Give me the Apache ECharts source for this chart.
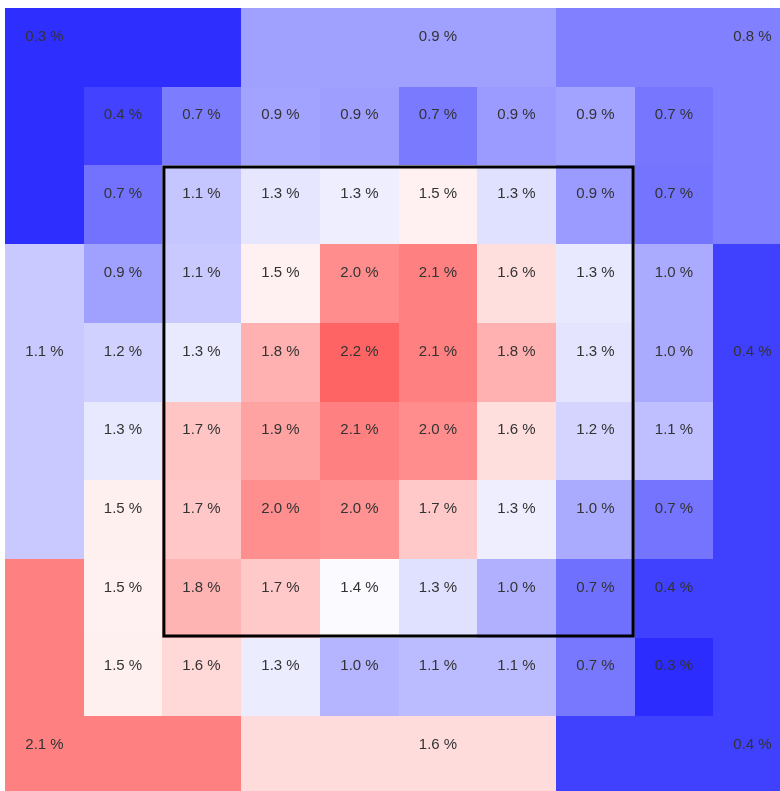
<!DOCTYPE html>
<html>
<head>
<meta charset="utf-8">
<script src="https://cdn.jsdelivr.net/npm/echarts@6/dist/echarts.min.js"></script>
<style>
  html, body { margin: 0; padding: 0; background: #ffffff; }
  #chart { width: 780px; height: 791px; }
</style>
</head>
<body>
<div id="chart"></div>
<script>
// Column / row categories of the 10 x 10 zone grid (0 = top / left)
var columns = ['0', '1', '2', '3', '4', '5', '6', '7', '8', '9'];
var rows = ['0', '1', '2', '3', '4', '5', '6', '7', '8', '9'];

// Inner 8 x 8 grid values (percent), rows 1..8 top to bottom, columns 1..8 left to right
var innerRow1 = [0.44, 0.74, 0.94, 0.92, 0.73, 0.90, 0.94, 0.71];
var innerRow2 = [0.69, 1.12, 1.29, 1.33, 1.49, 1.26, 0.90, 0.70];
var innerRow3 = [0.93, 1.14, 1.49, 2.01, 2.08, 1.59, 1.30, 0.98];
var innerRow4 = [1.18, 1.31, 1.83, 2.22, 2.08, 1.83, 1.28, 0.98];
var innerRow5 = [1.30, 1.72, 1.90, 2.08, 2.01, 1.59, 1.20, 1.09];
var innerRow6 = [1.50, 1.71, 2.00, 1.98, 1.70, 1.33, 0.98, 0.70];
var innerRow7 = [1.49, 1.81, 1.70, 1.40, 1.26, 1.01, 0.68, 0.43];
var innerRow8 = [1.50, 1.62, 1.32, 1.03, 1.07, 1.07, 0.72, 0.33];

// Outer (shadow) regions
var outerNames  = ['topLeft', 'top', 'topRight', 'left', 'right', 'bottomLeft', 'bottom', 'bottomRight'];
var outerValues = [0.34, 0.93, 0.77, 1.14, 0.43, 2.08, 1.60, 0.43];

// Strike zone bounds in grid cells: [firstCol, firstRow, lastCol, lastRow]
var strikeZone = [2, 2, 7, 7];

// ---- build cell data: [col, row, value, showLabel] ----
var innerRows = [innerRow1, innerRow2, innerRow3, innerRow4, innerRow5, innerRow6, innerRow7, innerRow8];

function outerRegion(c, r) {
  // returns [regionIndex, isLabelCell]
  if ((r === 0 && c <= 2) || (c === 0 && r <= 2)) return [0, c === 0 && r === 0];
  if (r === 0 && c >= 3 && c <= 6) return [1, c === 5];
  if ((r === 0 && c >= 7) || (c === 9 && r <= 2)) return [2, c === 9 && r === 0];
  if (c === 0 && r >= 3 && r <= 6) return [3, r === 4];
  if (c === 9 && r >= 3 && r <= 6) return [4, r === 4];
  if ((r === 9 && c <= 2) || (c === 0 && r >= 7)) return [5, c === 0 && r === 9];
  if (r === 9 && c >= 3 && c <= 6) return [6, c === 5];
  return [7, c === 9 && r === 9];
}

var cellData = [];
for (var r = 0; r < rows.length; r++) {
  for (var c = 0; c < columns.length; c++) {
    if (r >= 1 && r <= 8 && c >= 1 && c <= 8) {
      cellData.push([c, r, innerRows[r - 1][c - 1], 1]);
    } else {
      var reg = outerRegion(c, r);
      cellData.push([c, r, outerValues[reg[0]], reg[1] ? 1 : 0]);
    }
  }
}

var chart = echarts.init(document.getElementById('chart'), null, { renderer: 'canvas' });

var option = {
  backgroundColor: '#ffffff',
  animation: false,
  grid: { left: 5, top: 8, width: 787, height: 787, outerBoundsMode: 'none', containLabel: false },
  xAxis: {
    type: 'category', data: columns, show: false,
    splitArea: { show: false }
  },
  yAxis: {
    type: 'category', data: rows, show: false, inverse: true,
    splitArea: { show: false }
  },
  visualMap: {
    show: false,
    seriesIndex: 0,
    dimension: 2,
    min: 0.1,
    max: 2.74,
    calculable: false,
    inRange: { color: ['#0000ff', '#ffffff', '#ff0000'] }
  },
  series: [
    {
      type: 'custom',
      silent: true,
      data: cellData,
      encode: { x: 0, y: 1 },
      renderItem: function (params, api) {
        var p = api.coord([api.value(0), api.value(1)]);
        var size = api.size([1, 1]);
        var x0 = Math.round(p[0] - size[0] / 2);
        var x1 = Math.round(p[0] + size[0] / 2);
        var y0 = Math.round(p[1] - size[1] / 2);
        var y1 = Math.round(p[1] + size[1] / 2);
        var v = api.value(2);
        var el = {
          type: 'rect',
          shape: { x: x0, y: y0, width: x1 - x0, height: y1 - y0 },
          style: { fill: api.visual('color'), stroke: null, lineWidth: 0 }
        };
        if (api.value(3) === 1) {
          el.textContent = {
            style: {
              text: v.toFixed(1) + ' %',
              fill: '#333333',
              fontSize: 15,
              fontFamily: 'Liberation Sans, Arial, sans-serif',
              align: 'center',
              verticalAlign: 'middle'
            }
          };
          el.textConfig = { position: 'inside', offset: [0, -11] };
        }
        return el;
      }
    },
    {
      type: 'custom',
      silent: true,
      z: 10,
      data: [strikeZone],
      encode: { x: [0, 2], y: [1, 3] },
      renderItem: function (params, api) {
        var p0 = api.coord([api.value(0), api.value(1)]);
        var p1 = api.coord([api.value(2), api.value(3)]);
        var size = api.size([1, 1]);
        var inset = 1.5;
        var x0 = p0[0] - size[0] / 2 + inset;
        var y0 = p0[1] - size[1] / 2 + inset;
        var x1 = p1[0] + size[0] / 2 - inset;
        var y1 = p1[1] + size[1] / 2 - inset;
        return {
          type: 'rect',
          shape: { x: x0, y: y0, width: x1 - x0, height: y1 - y0 },
          style: { fill: null, stroke: '#000000', lineWidth: 3 }
        };
      }
    }
  ]
};

chart.setOption(option);
</script>
</body>
</html>
